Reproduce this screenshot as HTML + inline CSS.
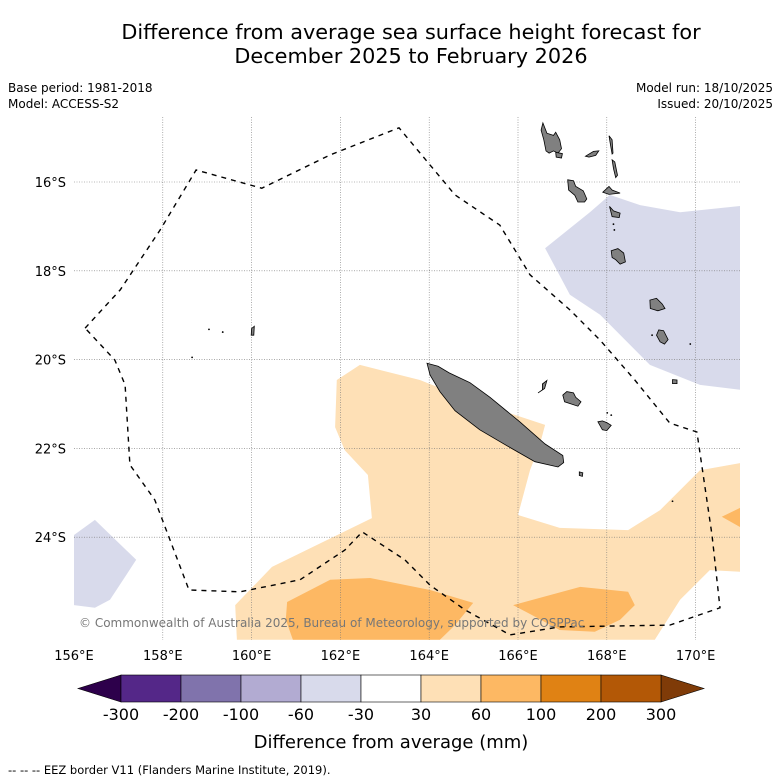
<!DOCTYPE html>
<html><head><meta charset="utf-8"><style>
html,body{margin:0;padding:0;background:#fff;width:781px;height:781px;overflow:hidden}
svg text{font-family:"DejaVu Sans","Liberation Sans",sans-serif}
</style></head><body>
<svg id="chart" width="781" height="781" viewBox="0 0 781 781" xmlns="http://www.w3.org/2000/svg">
<rect width="781" height="781" fill="#fff"/>
<text x="411" y="39" font-size="20.8" text-anchor="middle">Difference from average sea surface height forecast for</text>
<text x="411" y="63" font-size="20.8" text-anchor="middle">December 2025 to February 2026</text>
<text x="8" y="92" font-size="12">Base period: 1981-2018</text>
<text x="8" y="108" font-size="12">Model: ACCESS-S2</text>
<text x="773" y="92" font-size="12" text-anchor="end">Model run: 18/10/2025</text>
<text x="773" y="108" font-size="12" text-anchor="end">Issued: 20/10/2025</text>
<g id="map"></g>
<g id="cbar"></g>
<text x="391" y="748" font-size="18" text-anchor="middle">Difference from average (mm)</text>
<text x="8" y="774" font-size="11.5">--  --  -- EEZ border V11 (Flanders Marine Institute, 2019).</text>
</svg>
<script>
const lonTicks=[156,158,160,162,164,166,168,170];
const latTicks=[16,18,20,22,24];
const levelLabels=["-300","-200","-100","-60","-30","30","60","100","200","300"];
const levelColors=["#542788","#8073ac","#b2abd2","#d8daeb","#ffffff","#fee0b6","#fdb863","#e08214","#b35806"];
const extendColors=["#2d004b","#7f3b08"];
const anomPurpleNE=[[166.61,17.49],[167.17,18.54],[167.85,18.99],[168.97,20.12],[170.10,20.57],[171,20.68],[171,16.54],[169.65,16.68],[168.75,16.52],[168.07,16.29],[167.62,16.68]];
const anomPurpleSW=[[156,23.95],[156.47,23.61],[157.40,24.51],[156.81,25.41],[156.47,25.59],[156,25.53]];
const anomOrangeLight=[[161.92,20.46],[162.44,20.12],[163.79,20.46],[164.92,20.91],[166.61,21.47],[166.49,21.92],[166.27,22.49],[166.0,23.50],[166.94,23.79],[168.48,23.84],[169.20,23.39],[170.10,22.49],[171,22.33],[171,24.78],[170.32,24.74],[169.65,25.41],[169.08,26.31],[159.67,26.31],[159.63,25.53],[160.46,24.67],[162.71,23.57],[162.62,22.60],[162.10,22.04],[161.88,21.52]];
const anomOrangeA=[[160.80,25.46],[161.77,24.96],[162.67,24.92],[164.02,25.19],[164.99,25.48],[164.58,25.98],[164.24,26.31],[160.93,26.31],[160.77,25.86]];
const anomOrangeB=[[165.89,25.53],[167.40,25.12],[168.48,25.23],[168.63,25.53],[168.30,25.86],[167.73,26.13],[166.94,26.09],[166.27,25.73]];
const anomOrangeC=[[170.59,23.54],[171,23.34],[171,23.77]];
const eez=[[156.25,19.29],[157.04,18.43],[157.94,17.08],[158.75,15.73],[160.23,16.14],[161.77,15.39],[163.32,14.78],[164.58,16.29],[165.59,16.97],[166.27,18.09],[167.17,18.88],[167.85,19.56],[168.63,20.46],[169.42,21.43],[170.03,21.63],[170.37,23.95],[170.55,25.59],[169.42,25.98],[166.94,26.02],[165.82,26.20],[164.81,25.64],[164.02,25.08],[163.45,24.51],[162.49,23.88],[162.10,24.29],[161.09,24.96],[159.74,25.23],[158.59,25.19],[157.82,23.16],[157.26,22.37],[157.15,20.57],[156.92,20.01],[156.25,19.29]];
const islands=[
[[163.95,20.08],[164.20,20.15],[164.45,20.30],[164.92,20.52],[165.37,20.85],[166.04,21.40],[166.61,21.90],[167.01,22.16],[167.03,22.32],[166.90,22.42],[166.38,22.30],[165.82,21.98],[165.14,21.58],[164.58,21.15],[164.24,20.72],[164.02,20.35]],
[[166.56,14.67],[166.65,14.90],[166.80,14.95],[166.85,14.88],[166.94,15.05],[166.98,15.25],[166.90,15.35],[166.80,15.30],[166.70,15.35],[166.63,15.30],[166.58,15.05],[166.52,14.83]],
[[166.85,15.33],[167.0,15.36],[166.98,15.46],[166.86,15.44]],
[[167.12,15.95],[167.25,15.97],[167.30,16.10],[167.47,16.20],[167.55,16.38],[167.50,16.45],[167.35,16.45],[167.28,16.30],[167.14,16.18]],
[[167.52,15.42],[167.70,15.31],[167.82,15.30],[167.75,15.40],[167.60,15.44]],
[[168.05,14.96],[168.12,15.05],[168.14,15.35],[168.12,15.37],[168.08,15.15]],
[[168.12,15.50],[168.18,15.55],[168.24,15.85],[168.20,15.90],[168.15,15.70]],
[[167.91,16.23],[168.05,16.10],[168.12,16.18],[168.30,16.25],[168.05,16.28]],
[[168.06,16.55],[168.15,16.65],[168.30,16.70],[168.28,16.80],[168.12,16.78]],
[[168.10,17.55],[168.25,17.50],[168.38,17.60],[168.42,17.80],[168.30,17.85],[168.20,17.75],[168.12,17.70]],
[[168.97,18.66],[169.12,18.62],[169.25,18.75],[169.31,18.85],[169.15,18.90],[168.98,18.85]],
[[169.17,19.33],[169.28,19.35],[169.38,19.55],[169.30,19.65],[169.20,19.60],[169.12,19.45]],
[[169.48,20.45],[169.58,20.46],[169.58,20.54],[169.48,20.54]],
[[167.01,20.80],[167.10,20.72],[167.25,20.75],[167.30,20.85],[167.42,20.95],[167.35,21.05],[167.20,21.00],[167.05,20.95]],
[[167.80,21.40],[167.90,21.38],[168.0,21.42],[168.10,21.48],[168.0,21.60],[167.90,21.58]],
[[166.55,20.55],[166.65,20.47],[166.60,20.65],[166.45,20.75],[166.55,20.68]],
[[167.38,22.53],[167.46,22.55],[167.45,22.63],[167.38,22.61]],
[[160.00,19.30],[160.06,19.25],[160.05,19.45],[159.99,19.45]]
];
const dots=[[159.04,19.32],[159.35,19.38],[158.66,19.95],[168.10,21.25],[168.01,21.20],[169.02,19.45],[169.88,19.65],[168.15,16.95],[168.17,17.08],[169.48,23.19]];

const NS="http://www.w3.org/2000/svg";
const X0=74,PX=44.4,Y0=182;
function xs(lon){return X0+(lon-156)*PX;}
function ys(lat){return Y0+(lat-16)*PX;}
function pts(a){return a.map(p=>xs(p[0]).toFixed(1)+","+ys(p[1]).toFixed(1)).join(" ");}
function mk(tag,at,parent){const e=document.createElementNS(NS,tag);for(const k in at)e.setAttribute(k,at[k]);parent.appendChild(e);return e;}
const map=document.getElementById('map');
const clip=mk('clipPath',{id:'mc'},map);mk('rect',{x:xs(156),y:117,width:xs(171)-xs(156),height:640-117},clip);
const g=mk('g',{'clip-path':'url(#mc)'},map);
function poly(a,fill,name,stroke){const p=mk('polygon',{points:pts(a),fill:fill,stroke:stroke||'none','stroke-width':0.8},g);

return p;}
poly(anomPurpleNE,levelColors[3],'anomaly-neg-60-ne');
poly(anomPurpleSW,levelColors[3],'anomaly-neg-60-sw');
poly(anomOrangeLight,levelColors[5],'anomaly-30-60');
poly(anomOrangeA,levelColors[6],'anomaly-60-100-west');
poly(anomOrangeB,levelColors[6],'anomaly-60-100-east');
poly(anomOrangeC,levelColors[6],'anomaly-60-100-edge');
lonTicks.forEach(l=>{if(l===156)return;const e=mk('line',{x1:xs(l),x2:xs(l),y1:117,y2:640,stroke:'#777','stroke-width':0.6,'stroke-dasharray':'1,1.5'},g);

});
latTicks.forEach(l=>{const e=mk('line',{x1:74,x2:740,y1:ys(l),y2:ys(l),stroke:'#777','stroke-width':0.6,'stroke-dasharray':'1,1.5'},g);

});
islands.forEach((a,i)=>{poly(a,'#808080','island-'+i,'#000');});
dots.forEach((d,i)=>{const c=mk('circle',{cx:xs(d[0]),cy:ys(d[1]),r:0.9,fill:'#000'},g);

});
const ez=mk('polyline',{points:pts(eez),fill:'none',stroke:'#000','stroke-width':1.4,'stroke-dasharray':'5,5'},g);


const cp=mk('text',{x:79,y:627,'font-size':12,fill:'#777'},g);cp.textContent='© Commonwealth of Australia 2025, Bureau of Meteorology, supported by COSPPac';


lonTicks.forEach(l=>{const t=mk('text',{x:xs(l),y:660,'font-size':13,'text-anchor':'middle'},map);t.textContent=l+'°E';

});
latTicks.forEach(l=>{const t=mk('text',{x:66,y:ys(l)+5,'font-size':13,'text-anchor':'end'},map);t.textContent=l+'°S';

});
const cb=document.getElementById('cbar');
const CX0=121,CW=60,CY=675,CH=27;
const t1=mk('polygon',{points:`${CX0},${CY} 78,${CY+CH/2} ${CX0},${CY+CH}`,fill:extendColors[0],stroke:'#000','stroke-width':0.6},cb);


const cEnd=CX0+levelColors.length*CW;
const t2=mk('polygon',{points:`${cEnd},${CY} ${cEnd+43},${CY+CH/2} ${cEnd},${CY+CH}`,fill:extendColors[1],stroke:'#000','stroke-width':0.6},cb);


levelColors.forEach((c,i)=>{const r=mk('rect',{x:CX0+i*CW,y:CY,width:CW,height:CH,fill:c,stroke:'#000','stroke-width':0.6},cb);

});
levelLabels.forEach((s,i)=>{const t=mk('text',{x:CX0+i*CW,y:720,'font-size':16,'text-anchor':'middle'},cb);t.textContent=s;

});
</script>
</body></html>
